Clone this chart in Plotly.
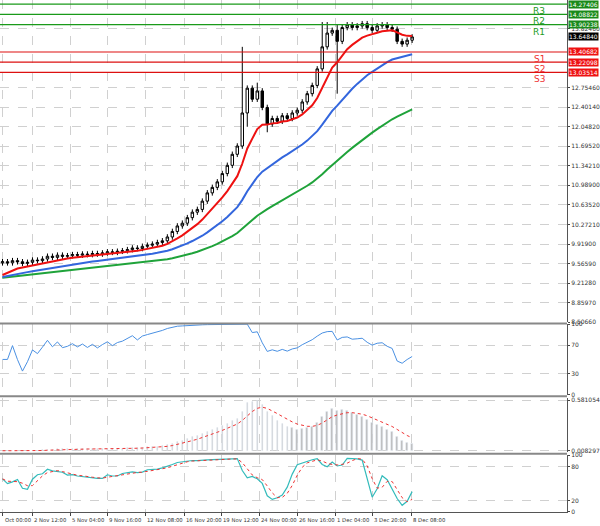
import plotly.graph_objects as go
import pandas as pd
import numpy as np

closes = [9.60,9.58,9.62,9.60,9.57,9.59,9.63,9.62,9.65,9.70,9.68,9.72,9.70,9.71,9.73,9.72,9.74,9.73,
          9.75,9.74,9.76,9.78,9.77,9.79,9.80,9.82,
          9.85,9.84,9.88,9.90,9.92,9.95,9.98,
          10.05,10.15,10.25,10.30,10.40,10.50,10.55,
          10.70,10.85,10.95,11.05,11.20,11.35,11.55,11.70,
          12.30,12.75,12.55,12.70,12.40,
          12.10,12.20,12.15,12.25,12.20,12.30,12.35,
          12.50,12.65,12.80,13.10,13.50,13.75,13.80,13.60,
          13.85,13.90,13.85,13.88,13.92,13.85,13.80,13.88,13.90,13.85,13.82,
          13.60,13.55,13.62,13.68]
high_override = {48: 13.50, 51: 12.85, 64: 13.95, 65: 13.95, 67: 13.90}
low_override = {67: 12.65, 49: 12.05, 53: 11.95}
levels_res = [14.27406, 14.08822, 13.90238]
levels_sup = [13.40682, 13.22098, 13.03514]
res_names = ["R3", "R2", "R1"]
sup_names = ["S1", "S2", "S3"]
price_ticks = [8.50660,8.85970,9.21280,9.56590,9.91900,10.27210,10.63520,10.98900,11.34210,11.69520,12.04820,12.40140,12.75460,13.82460]
xtick_pos = [0,6,13.6,21,28.6,36.4,43.8,51.4,59,66.6,74,81.8]
xtick_text = ["Oct 00:00","2 Nov 12:00","5 Nov 04:00","9 Nov 16:00","12 Nov 08:00","16 Nov 20:00",
              "19 Nov 12:00","24 Nov 00:00","26 Nov 16:00","1 Dec 04:00","3 Dec 20:00","8 Dec 08:00"]

n = len(closes)
x = list(range(n))
opens = [closes[0] - 0.02] + closes[:-1]
highs = [high_override.get(i, max(o, c) + 0.05) for i, (o, c) in enumerate(zip(opens, closes))]
lows = [low_override.get(i, min(o, c) - 0.05) for i, (o, c) in enumerate(zip(opens, closes))]

s = pd.Series([9.3]*60 + closes)
red = s.ewm(span=9).mean().iloc[60:].tolist()
blue = s.ewm(span=25).mean().iloc[60:].tolist()
green = s.ewm(span=60).mean().iloc[60:].tolist()

c = pd.Series(closes)
d = c.diff().fillna(0)
up = d.clip(lower=0).ewm(alpha=1/8).mean(); dn = (-d.clip(upper=0)).ewm(alpha=1/8).mean()
rsi = (100 - 100/(1+up/dn.replace(0, 1e-9))).tolist()
rsi[0] = 50
rsi[1] = 50
macd = (c.ewm(span=6).mean() - c.ewm(span=18).mean())
sig = macd.ewm(span=6).mean()
lo = pd.Series(lows).rolling(5, min_periods=1).min(); hi = pd.Series(highs).rolling(5, min_periods=1).max()
k = (100*(c-lo)/(hi-lo)).rolling(2, min_periods=1).mean()
dd = k.rolling(3, min_periods=1).mean()

fig = go.Figure()
fig.add_trace(go.Candlestick(x=x, open=opens, high=highs, low=lows, close=closes,
    increasing=dict(line=dict(color="black", width=1), fillcolor="white"),
    decreasing=dict(line=dict(color="black", width=1), fillcolor="black"),
    whiskerwidth=0, xaxis="x", yaxis="y"))
fig.add_trace(go.Scatter(x=x, y=green, mode="lines", line=dict(color="#1fa33a", width=2), xaxis="x", yaxis="y"))
fig.add_trace(go.Scatter(x=x, y=blue, mode="lines", line=dict(color="#3366dd", width=2), xaxis="x", yaxis="y"))
fig.add_trace(go.Scatter(x=x, y=red, mode="lines", line=dict(color="#ee1111", width=2), xaxis="x", yaxis="y"))
fig.add_trace(go.Scatter(x=x, y=rsi, mode="lines", line=dict(color="#4a90e2", width=1), xaxis="x", yaxis="y2"))
fig.add_trace(go.Bar(x=x, y=macd, marker_color="#bbbbbb", width=0.3, xaxis="x", yaxis="y3"))
fig.add_trace(go.Scatter(x=x, y=sig, mode="lines", line=dict(color="#ee3333", width=1, dash="dot"), xaxis="x", yaxis="y3"))
fig.add_trace(go.Scatter(x=x, y=k, mode="lines", line=dict(color="#33bbbb", width=1.2), xaxis="x", yaxis="y4"))
fig.add_trace(go.Scatter(x=x, y=dd, mode="lines", line=dict(color="#ee3333", width=1, dash="dot"), xaxis="x", yaxis="y4"))

shapes, ann = [], []
lab = dict(xref="x domain", yref="y", x=1.002, xanchor="left", showarrow=False, font=dict(color="white", size=6), borderpad=0)
for v, nm in zip(levels_res, res_names):
    shapes.append(dict(type="line", xref="x domain", yref="y", x0=0, x1=1, y0=v, y1=v, line=dict(color="#1a9a1a", width=1.2)))
    ann.append(dict(xref="x domain", yref="y", x=0.965, y=v, text=nm, showarrow=False, yanchor="top", font=dict(color="#1a9a1a", size=9)))
    ann.append(dict(y=v, text="%.5f" % v, bgcolor="#1a8a1a", **lab))
for v, nm in zip(levels_sup, sup_names):
    shapes.append(dict(type="line", xref="x domain", yref="y", x0=0, x1=1, y0=v, y1=v, line=dict(color="#dd1111", width=1.2)))
    ann.append(dict(xref="x domain", yref="y", x=0.965, y=v, text=nm, showarrow=False, yanchor="top", font=dict(color="#ee3333", size=9)))
    ann.append(dict(y=v, text="%.5f" % v, bgcolor="#ee1111", **lab))
ann.append(dict(y=closes[-1], text="13.64840", bgcolor="black", **lab))
for xp, tx in zip(xtick_pos, xtick_text):
    ann.append(dict(xref="x", yref="paper", x=xp, y=0, yshift=-3, xanchor="left", yanchor="top", text=tx,
                    showarrow=False, font=dict(size=5.3, color="#333")))
for y0 in [0.371, 0.229, 0.117]:
    shapes.append(dict(type="line", xref="paper", yref="paper", x0=0, x1=1, y0=y0 - 0.003, y1=y0 - 0.003, line=dict(color="#888", width=2)))

grid = dict(showgrid=True, gridcolor="#d0d0d0", griddash="dash", gridwidth=1)
ax = dict(side="right", tickfont=dict(size=6, color="#333"), ticks="outside", ticklen=2, showline=True, linecolor="#555", zeroline=False, **grid)
fig.update_layout(
    width=600, height=526, margin=dict(l=0, r=33, t=0, b=14, autoexpand=False), showlegend=False,
    plot_bgcolor="white", paper_bgcolor="white", bargap=0,
    xaxis=dict(range=[-0.5, 113], domain=[0, 1], tickvals=xtick_pos, showticklabels=False,
               rangeslider=dict(visible=False), anchor="y4", ticks="outside", ticklen=3, showline=True, linecolor="#555", **grid),
    yaxis=dict(domain=[0.371, 1], range=[8.506, 14.35], tickvals=price_ticks, ticktext=["%.5f" % t for t in price_ticks], anchor="x", **ax),
    yaxis2=dict(domain=[0.229, 0.367], range=[0, 100], tickvals=[0, 30, 70, 100], anchor="x", **ax),
    yaxis3=dict(domain=[0.117, 0.223], range=[float(macd.min()) - 0.02, float(macd.max()) * 1.05],
                tickvals=[float(macd.max()), 0.0], ticktext=["0.581054", "0.008297"], anchor="x", **ax),
    yaxis4=dict(domain=[0, 0.111], range=[0, 100], tickvals=[0, 20, 80, 100], anchor="x", **ax),
    shapes=shapes, annotations=ann, font=dict(family="DejaVu Sans"))
fig.write_html("out.html", config={"displayModeBar": False},
               post_script="document.body.style.margin='0';document.body.style.overflow='hidden';")
